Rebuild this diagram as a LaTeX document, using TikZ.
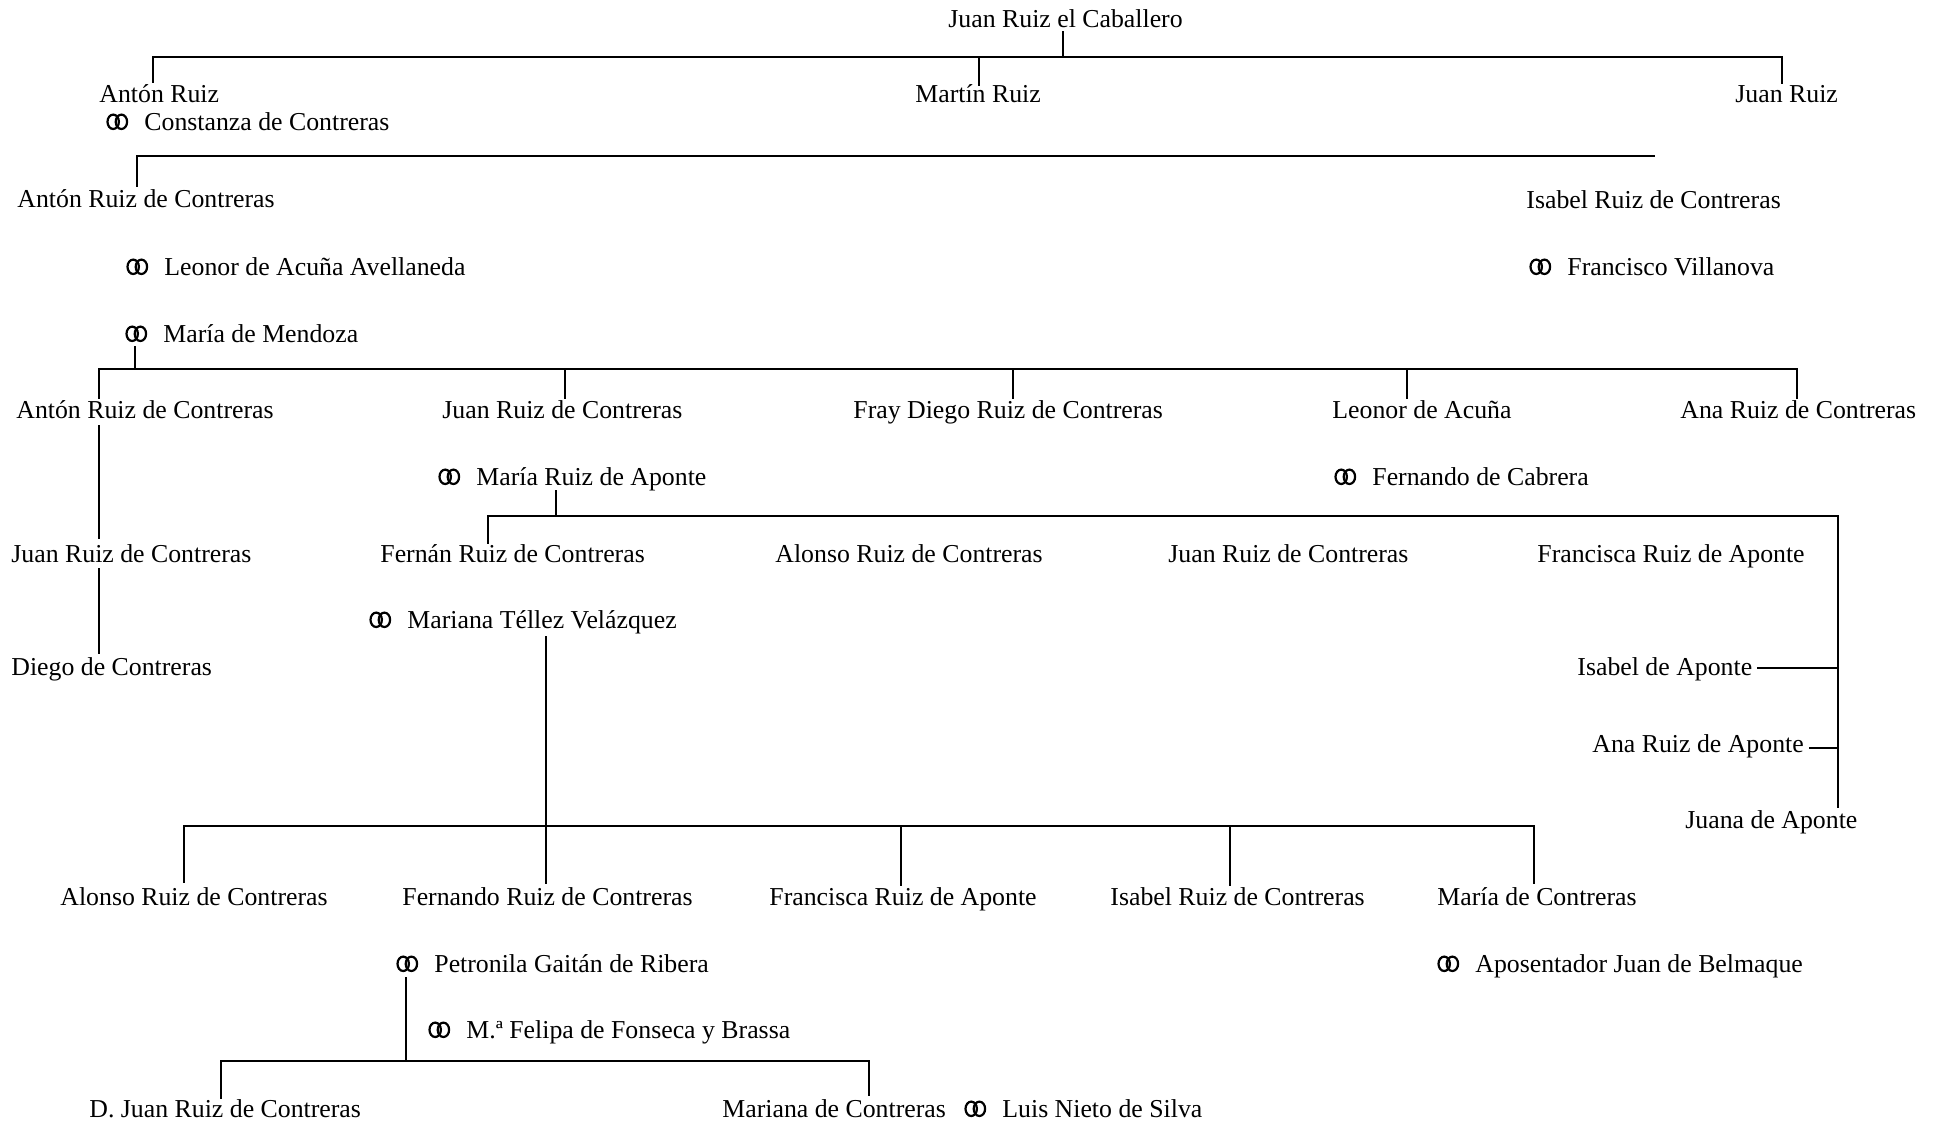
\documentclass[tikz,border=0pt]{standalone}
\usepackage{fontspec}
\setmainfont{Liberation Serif}
\newcommand{\rings}{\tikz[baseline=0pt]{\useasboundingbox (0pt,0pt) rectangle (11pt,8.2pt);
  \draw[line width=1.1pt] (3.4pt,4.1pt) ellipse (2.85pt and 3.6pt);
  \draw[line width=1.1pt] (7.5pt,4.1pt) ellipse (2.85pt and 3.6pt);}}
\newcommand{\marr}[1]{\rings\hspace{8pt}#1}
\begin{document}
\begin{tikzpicture}[x=0.5pt,y=-0.5pt,
  person/.style={anchor=base west,inner sep=0pt,font=\fontsize{12.9}{15}\selectfont},
  tree/.style={line width=0.9pt,line cap=rect}]
\useasboundingbox (0,0) rectangle (1936,1129);
% ---------- generation 1 and 2
\node[person] (cab) at (948,28) {Juan Ruiz el Caballero};
\node[person] (anton1) at (99,103) {Antón Ruiz};
\node[person] (martin) at (915,103) {Martín Ruiz};
\node[person] (juan1) at (1735,103) {Juan Ruiz};
\node[person] (constanza) at (106,130) {\marr{Constanza de Contreras}};
% ---------- generation 3
\node[person] (anton2) at (17,207) {Antón Ruiz de Contreras};
\node[person] (isabel1) at (1526,208) {Isabel Ruiz de Contreras};
\node[person] (leonor1) at (126,275) {\marr{Leonor de Acuña Avellaneda}};
\node[person] (francisco) at (1529,275) {\marr{Francisco Villanova}};
\node[person] (mendoza) at (125,342) {\marr{María de Mendoza}};
% ---------- generation 4
\node[person] (anton3) at (16,418) {Antón Ruiz de Contreras};
\node[person] (juan3) at (442,418) {Juan Ruiz de Contreras};
\node[person] (fray) at (853,418) {Fray Diego Ruiz de Contreras};
\node[person] (leonor2) at (1332,418) {Leonor de Acuña};
\node[person] (ana1) at (1680,418) {Ana Ruiz de Contreras};
\node[person] (aponte) at (438,485) {\marr{María Ruiz de Aponte}};
\node[person] (cabrera) at (1334,485) {\marr{Fernando de Cabrera}};
% ---------- generation 5
\node[person] (juan4) at (11,562) {Juan Ruiz de Contreras};
\node[person] (fernan) at (380,562) {Fernán Ruiz de Contreras};
\node[person] (alonso1) at (775,562) {Alonso Ruiz de Contreras};
\node[person] (juan5) at (1168,562) {Juan Ruiz de Contreras};
\node[person] (francisca1) at (1537,562) {Francisca Ruiz de Aponte};
\node[person] (mariana1) at (369,628) {\marr{Mariana Téllez Velázquez}};
\node[person] (diego) at (11,675) {Diego de Contreras};
\node[person] (isabel2) at (1577,675) {Isabel de Aponte};
\node[person] (ana2) at (1592,752) {Ana Ruiz de Aponte};
\node[person] (juana) at (1685,828) {Juana de Aponte};
% ---------- generation 6
\node[person] (alonso2) at (60,905) {Alonso Ruiz de Contreras};
\node[person] (fernando) at (402,905) {Fernando Ruiz de Contreras};
\node[person] (francisca2) at (769,905) {Francisca Ruiz de Aponte};
\node[person] (isabel3) at (1110,905) {Isabel Ruiz de Contreras};
\node[person] (maria2) at (1437,905) {María de Contreras};
\node[person] (petronila) at (396,972) {\marr{Petronila Gaitán de Ribera}};
\node[person] (belmaque) at (1437,972) {\marr{Aposentador Juan de Belmaque}};
\node[person] (felipa) at (428,1038) {\marr{M.ª Felipa de Fonseca y Brassa}};
% ---------- generation 7
\node[person] (djuan) at (89,1117) {D. Juan Ruiz de Contreras};
\node[person] (mariana2) at (722,1117) {Mariana de Contreras};
\node[person] (luis) at (964,1117) {\marr{Luis Nieto de Silva}};
% ---------- connectors
\coordinate (b1L) at (153,57);
\coordinate (b1R) at (1782,57);
\draw[tree] (1063,32) -- (1063,57);
\draw[tree] (153,82) -- (b1L) -- (b1R) -- (1782,83);
\draw[tree] (979,57) -- (979,85);
\coordinate (b2L) at (137,156);
\coordinate (b2R) at (1654,156);
\draw[tree] (137,186) -- (b2L) -- (b2R);
\coordinate (b3L) at (99,369);
\coordinate (b3R) at (1797,369);
\draw[tree] (135,347) -- (135,369);
\draw[tree] (99,398) -- (b3L) -- (b3R) -- (1797,398);
\draw[tree] (565,369) -- (565,398);
\draw[tree] (1013,369) -- (1013,398);
\draw[tree] (1407,369) -- (1407,398);
\draw[tree] (99,426) -- (99,538);
\draw[tree] (99,569) -- (99,653);
\coordinate (b4L) at (488,516);
\coordinate (b4R) at (1838,516);
\draw[tree] (556,491) -- (556,516);
\draw[tree] (488,543) -- (b4L) -- (b4R) -- (1838,807);
\draw[tree] (1758,668) -- (1838,668);
\draw[tree] (1810,748) -- (1838,748);
\coordinate (b5L) at (184,826);
\coordinate (b5R) at (1534,826);
\draw[tree] (546,637) -- (546,883);
\draw[tree] (184,882) -- (b5L) -- (b5R) -- (1534,883);
\draw[tree] (901,826) -- (901,885);
\draw[tree] (1230,826) -- (1230,885);
\coordinate (b6L) at (221,1061);
\coordinate (b6R) at (869,1061);
\draw[tree] (406,978) -- (406,1061);
\draw[tree] (221,1098) -- (b6L) -- (b6R) -- (869,1095);
\end{tikzpicture}
\end{document}
